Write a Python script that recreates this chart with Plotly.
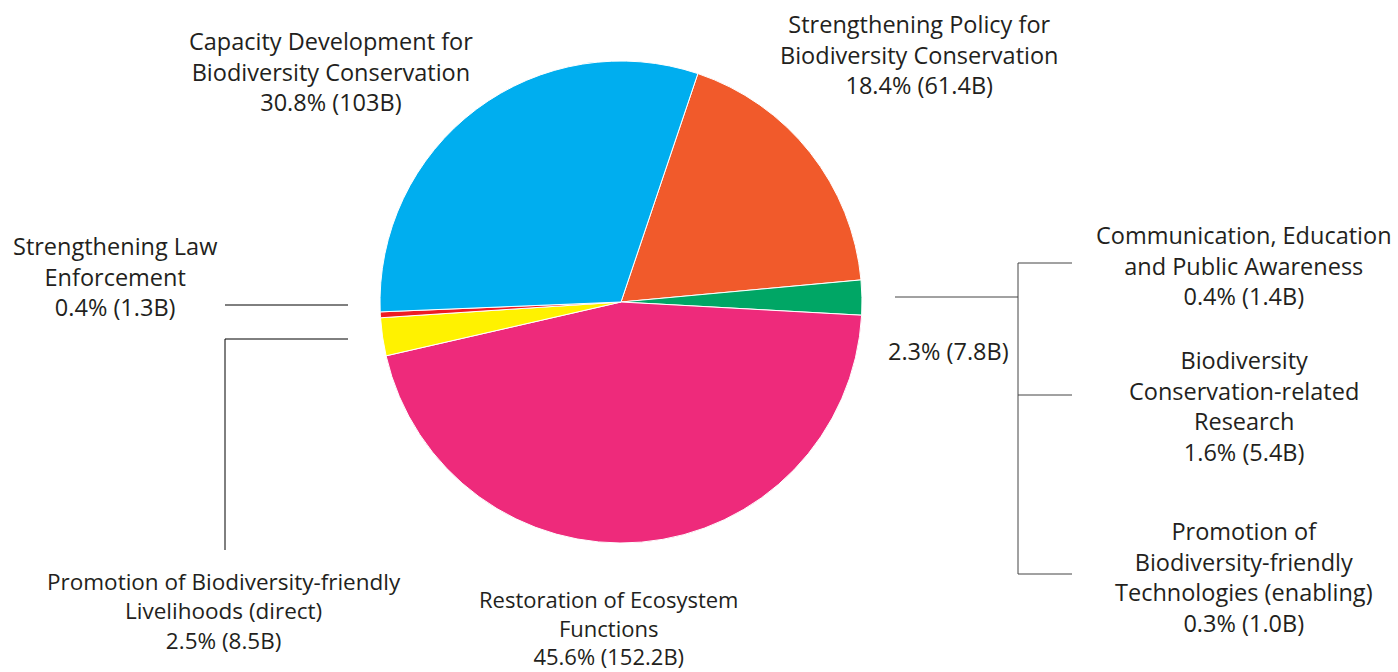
import plotly.graph_objects as go

# slices, clockwise from the orange one
labels = ["Strengthening Policy for<br>Biodiversity Conservation",
          "Other enabling activities",
          "Restoration of Ecosystem<br>Functions",
          "Promotion of Biodiversity-friendly<br>Livelihoods (direct)",
          "Strengthening Law<br>Enforcement",
          "Capacity Development for<br>Biodiversity Conservation"]
values = [61.4, 7.8, 152.2, 8.5, 1.3, 103]
pct_text = ["18.4% (61.4B)", "2.3% (7.8B)", "45.6% (152.2B)", "2.5% (8.5B)", "0.4% (1.3B)", "30.8% (103B)"]
colors = ["#F15A2B", "#00A665", "#EE2A7B", "#FFF200", "#ED1C24", "#00AEEF"]

# breakdown of the small green slice
sub_labels = ["Communication, Education<br>and Public Awareness",
              "Biodiversity<br>Conservation-related<br>Research",
              "Promotion of<br>Biodiversity-friendly<br>Technologies (enabling)"]
sub_pct = ["0.4% (1.4B)", "1.6% (5.4B)", "0.3% (1.0B)"]

W, H = 1398, 672

def px(x):
    return x / W

def py(y):
    return 1 - y / H

fig = go.Figure(go.Pie(
    labels=labels, values=values, sort=False, direction="clockwise", rotation=18.6,
    marker=dict(colors=colors, line=dict(color="white", width=1)),
    textinfo="none", hoverinfo="label+value", showlegend=False,
    domain=dict(x=[px(380), px(862)], y=[py(543), py(61)]),
))

font = dict(family="Open Sans, Lato, sans-serif", size=23.5, color="#231F20")
anns = []

def label(x, y, text, size=None):
    f = dict(font)
    if size:
        f["size"] = size
    anns.append(dict(x=px(x), y=py(y), xref="paper", yref="paper", text=text,
                     showarrow=False, font=f, align="center", xanchor="center", yanchor="middle"))

label(331, 72, labels[5] + "<br>" + pct_text[5])
label(919, 54, labels[0] + "<br>" + pct_text[0])
label(115, 276, labels[4] + "<br>" + pct_text[4])
label(224, 611, labels[3] + "<br>" + pct_text[3], 22.5)
label(608, 627, labels[2] + "<br>" + pct_text[2], 22)
label(948, 351, pct_text[1])
label(1244, 266, sub_labels[0] + "<br>" + sub_pct[0])
label(1244, 406, sub_labels[1] + "<br>" + sub_pct[1])
label(1244, 577, sub_labels[2] + "<br>" + sub_pct[2])

shapes = []

def seg(x0, y0, x1, y1, color="black"):
    shapes.append(dict(type="line", xref="paper", yref="paper",
                       x0=px(x0), y0=py(y0), x1=px(x1), y1=py(y1),
                       line=dict(color=color, width=1)))

seg(225, 305, 348, 305)
seg(225, 339, 348, 339)
seg(225, 339, 225, 550)
seg(895, 297, 1018, 297, "#444")
seg(1018, 263, 1018, 574, "#444")
seg(1018, 263, 1072, 263, "#444")
seg(1018, 395, 1072, 395, "#444")
seg(1018, 574, 1072, 574, "#444")

fig.update_layout(width=W, height=H, margin=dict(l=0, r=0, t=0, b=0),
                  paper_bgcolor="white", plot_bgcolor="white",
                  annotations=anns, shapes=shapes)
fig.write_html("out.html", config={"displayModeBar": False},
               post_script="document.body.style.margin='0';")
